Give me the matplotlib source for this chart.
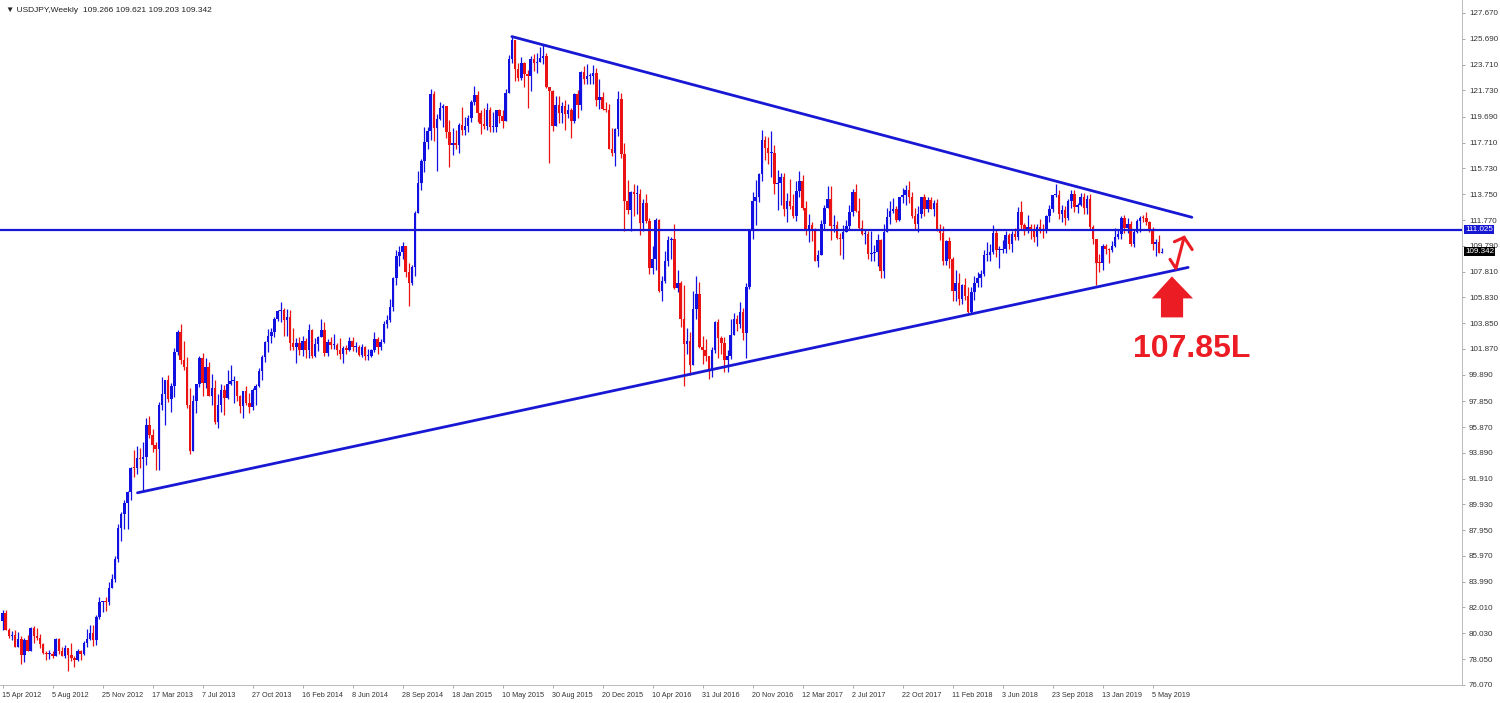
import matplotlib
matplotlib.use('Agg')
import matplotlib.pyplot as plt
from matplotlib.patches import Polygon
import numpy as np

plt.rcParams['font.family'] = ['Liberation Sans', 'DejaVu Sans']

# ── Weekly USDJPY candles (15 Apr 2012 .. 26 May 2019) ─────────────────
first_open = 80.95

close = [
    # 2012
    81.55, 80.30, 79.85, 79.90, 79.00, 79.60, 78.35, 79.55, 78.70, 80.40,
    79.80, 79.65, 79.20, 78.50, 78.40, 78.40, 78.30, 79.60, 78.70, 78.30,
    78.90, 78.35, 78.10, 77.95, 78.70, 78.45, 79.30, 79.60, 80.05, 79.50,
    81.30, 82.40, 82.50, 82.40, 83.50, 84.20, 85.70, 88.15,
    # 2013
    89.20, 90.05, 90.85, 92.75, 92.70, 93.50, 93.40, 93.55, 96.00, 95.25,
    94.50, 94.20, 97.60, 98.40, 99.50, 98.00, 99.00, 101.60, 103.20, 101.00,
    100.45, 97.55, 94.05, 97.90, 99.15, 101.20, 99.25, 100.45, 98.25, 98.90,
    96.25, 97.55, 98.70, 98.10, 99.15, 99.40, 99.40, 98.25, 97.45, 98.60,
    97.75, 97.40, 98.70, 99.05, 100.20, 101.25, 102.40, 102.90, 103.20, 104.15,
    104.75, 104.85,
    # 2014
    104.10, 104.30, 102.30, 102.05, 102.30, 101.80, 102.50, 101.80, 103.30, 101.35,
    102.25, 102.80, 103.30, 101.55, 102.40, 102.15, 102.20, 101.80, 101.50, 101.95,
    101.75, 102.45, 102.00, 102.05, 101.40, 102.05, 101.30, 101.35, 101.80, 102.60,
    102.00, 102.40, 103.80, 104.10, 105.10, 107.35, 109.00, 109.30, 109.75, 107.75,
    106.90, 108.15, 112.30, 114.60, 116.30, 117.80, 118.60, 121.45, 118.80, 119.50,
    120.40, 120.50,
    # 2015
    118.55, 117.55, 117.70, 117.50, 119.10, 118.70, 119.00, 119.60, 120.80, 121.40,
    120.00, 119.15, 119.00, 120.20, 118.90, 118.90, 120.20, 119.75, 119.35, 121.55,
    124.10, 125.60, 123.40, 122.70, 123.85, 122.95, 122.80, 124.10, 123.80, 123.90,
    124.20, 124.35, 122.00, 121.70, 119.00, 120.60, 120.00, 120.55, 119.90, 120.20,
    119.40, 121.45, 120.60, 123.15, 122.60, 122.80, 122.80, 123.10, 120.95, 121.20,
    120.30, 120.20,
    # 2016
    117.25, 116.95, 118.75, 121.10, 116.85, 113.20, 112.55, 113.95, 113.75, 113.80,
    111.55, 113.05, 111.70, 108.05, 108.75, 111.80, 106.35, 107.10, 108.60, 110.20,
    110.35, 106.55, 106.95, 104.20, 102.25, 102.50, 100.60, 104.90, 106.10, 102.05,
    101.80, 101.30, 100.20, 101.80, 103.95, 102.70, 102.30, 101.00, 101.35, 102.95,
    104.20, 103.80, 104.70, 103.10, 106.65, 110.90, 113.20, 113.50, 115.30, 117.95,
    117.30, 116.95,
    # 2017
    116.95, 114.50, 114.60, 115.10, 112.60, 113.20, 112.85, 112.10, 114.00, 114.80,
    112.70, 110.90, 111.40, 111.05, 108.65, 109.05, 111.50, 112.70, 113.35, 111.30,
    111.35, 110.40, 110.30, 110.85, 111.30, 112.40, 113.90, 112.50, 111.15, 110.70,
    110.70, 109.15, 109.20, 109.35, 110.25, 107.85, 110.85, 112.00, 112.50, 112.60,
    111.80, 113.50, 113.70, 114.05, 113.50, 112.10, 111.50, 112.20, 113.50, 112.60,
    113.30, 112.65, 113.05,
    # 2018
    111.05, 110.80, 108.60, 110.15, 108.80, 106.30, 106.90, 105.70, 106.80, 105.95,
    104.70, 106.25, 106.95, 107.35, 107.65, 109.05, 109.10, 109.35, 110.75, 109.45,
    109.50, 109.55, 110.65, 109.95, 110.70, 110.45, 112.35, 111.40, 111.05, 111.25,
    110.90, 110.50, 111.20, 111.05, 111.00, 112.05, 112.60, 113.70, 113.70, 112.20,
    112.55, 111.90, 113.20, 113.80, 112.80, 112.90, 113.55, 112.70, 113.40, 111.25,
    110.30, 108.50,
    # 2019
    108.45, 109.75, 109.55, 109.50, 109.75, 110.45, 110.70, 111.90, 111.15, 111.45,
    109.90, 110.85, 111.70, 111.95, 111.90, 111.60, 111.10, 109.95, 110.05, 109.27,
    109.342,
]

high = [
    # 2012
    81.80, 81.80, 80.45, 80.20, 80.30, 80.10, 79.80, 79.70, 79.90, 80.50,
    80.60, 80.40, 79.95, 79.30, 78.70, 78.75, 78.70, 79.65, 79.65, 78.95,
    79.10, 78.90, 79.25, 78.25, 78.80, 78.75, 79.45, 80.35, 80.70, 80.65,
    81.40, 82.85, 82.50, 82.85, 84.00, 84.60, 86.00, 88.40,
    # 2013
    89.35, 90.25, 90.95, 92.80, 94.10, 94.45, 94.25, 94.75, 96.60, 96.70,
    95.70, 94.75, 97.80, 99.70, 99.20, 99.90, 99.25, 101.95, 103.30, 103.75,
    102.50, 101.25, 98.85, 98.30, 99.20, 101.30, 101.55, 101.20, 100.85, 99.95,
    99.45, 98.40, 99.15, 99.10, 100.25, 100.60, 99.80, 99.40, 98.30, 98.65,
    99.00, 98.50, 98.90, 99.15, 100.40, 101.40, 102.45, 103.40, 103.45, 104.35,
    104.85, 105.45,
    # 2014
    105.05, 104.95, 104.85, 103.45, 102.70, 102.80, 102.85, 102.70, 103.75, 103.40,
    102.70, 102.90, 104.15, 103.90, 102.65, 102.75, 103.05, 102.30, 102.70, 102.10,
    102.20, 102.80, 102.80, 102.40, 102.20, 102.25, 102.10, 101.85, 101.90, 103.15,
    102.80, 102.65, 104.05, 104.50, 105.70, 107.40, 109.45, 109.75, 110.10, 109.05,
    108.45, 108.35, 112.50, 115.55, 116.45, 118.95, 118.95, 121.85, 121.70, 119.95,
    120.80, 120.70,
    # 2015
    120.55, 119.45, 118.85, 118.65, 119.25, 120.45, 119.65, 119.85, 120.95, 122.05,
    121.65, 120.25, 120.35, 120.75, 120.45, 120.10, 120.25, 120.30, 120.25, 121.80,
    124.45, 125.85, 125.10, 123.85, 124.30, 123.90, 123.30, 124.35, 124.55, 124.60,
    125.05, 125.30, 124.60, 122.00, 121.75, 121.30, 121.30, 120.80, 121.00, 120.70,
    120.35, 121.50, 121.75, 123.25, 123.60, 123.75, 123.10, 123.70, 123.45, 122.60,
    121.60, 120.80,
    # 2016
    120.70, 118.80, 118.85, 121.70, 121.50, 117.70, 114.85, 114.00, 114.55, 114.45,
    114.15, 113.35, 113.80, 111.90, 109.75, 111.90, 111.85, 107.50, 109.40, 110.55,
    110.45, 111.45, 107.90, 107.10, 106.80, 103.45, 103.20, 106.30, 107.50, 107.00,
    102.90, 102.65, 101.35, 102.05, 104.00, 104.20, 102.85, 102.80, 101.75, 104.15,
    104.65, 104.45, 105.50, 105.05, 106.95, 111.00, 113.90, 114.85, 115.40, 118.65,
    118.25, 118.15,
    # 2017
    118.60, 117.50, 115.60, 115.40, 115.35, 113.85, 114.95, 113.75, 114.75, 115.50,
    115.20, 113.20, 112.20, 111.60, 111.15, 109.45, 111.80, 112.95, 114.40, 114.35,
    112.15, 111.70, 110.80, 111.40, 111.80, 112.90, 114.15, 114.50, 113.45, 111.75,
    111.05, 110.95, 110.95, 109.85, 110.70, 110.35, 111.50, 112.70, 113.25, 113.45,
    112.85, 113.55, 114.25, 114.45, 114.75, 113.90, 112.70, 112.85, 113.55, 113.75,
    113.50, 113.55, 113.30,
    # 2018
    113.40, 111.50, 111.30, 110.20, 110.50, 108.90, 107.90, 107.70, 106.85, 107.30,
    106.60, 106.65, 107.50, 107.80, 107.90, 109.50, 110.05, 109.95, 111.40, 111.10,
    109.75, 110.25, 110.90, 110.75, 110.95, 111.15, 112.80, 113.20, 111.55, 112.15,
    111.50, 111.45, 111.50, 111.85, 111.50, 112.15, 112.90, 113.70, 114.55, 114.05,
    112.90, 112.85, 113.40, 114.10, 114.05, 113.10, 113.85, 113.85, 113.70, 113.75,
    111.40, 110.00,
    # 2019
    109.15, 109.90, 109.90, 109.60, 110.15, 111.15, 111.05, 112.05, 112.15, 111.90,
    111.70, 111.05, 111.85, 112.05, 112.15, 112.40, 111.70, 111.20, 110.30, 110.65,
    109.621,
]

low = [
    # 2012
    80.30, 80.25, 79.70, 79.50, 79.00, 78.95, 77.65, 77.80, 78.70, 78.75,
    79.30, 79.50, 78.90, 78.40, 77.95, 78.05, 78.10, 78.30, 78.40, 78.25,
    78.10, 77.15, 77.90, 77.45, 77.90, 78.00, 78.35, 79.00, 79.50, 79.05,
    79.10, 81.10, 81.70, 81.75, 82.20, 83.60, 84.00, 85.50,
    # 2013
    87.10, 88.05, 88.05, 90.25, 92.00, 92.25, 92.70, 90.85, 92.95, 95.05,
    93.95, 92.55, 92.55, 97.20, 96.00, 97.80, 97.05, 98.20, 101.40, 100.70,
    100.25, 97.30, 93.80, 94.05, 96.95, 98.95, 98.25, 98.90, 98.25, 97.60,
    96.10, 95.80, 97.00, 96.80, 98.05, 99.10, 97.75, 97.90, 96.95, 96.55,
    97.55, 96.95, 97.15, 97.60, 98.95, 99.45, 100.90, 101.60, 102.30, 102.75,
    104.05, 103.95,
    # 2014
    102.85, 102.85, 101.75, 101.75, 100.75, 101.40, 101.35, 101.20, 101.20, 101.20,
    101.25, 101.70, 102.75, 101.30, 101.35, 101.85, 101.90, 101.40, 101.10, 100.80,
    101.45, 101.70, 101.70, 101.60, 101.30, 101.25, 101.05, 101.05, 101.25, 101.65,
    101.50, 101.80, 102.30, 103.50, 103.95, 104.75, 106.80, 108.25, 108.75, 107.40,
    105.20, 106.80, 107.45, 112.45, 114.05, 115.45, 117.25, 117.95, 117.85, 115.55,
    119.45, 118.90,
    # 2015
    118.05, 115.85, 116.75, 117.25, 116.90, 118.30, 118.30, 118.50, 119.30, 120.60,
    119.30, 118.35, 118.75, 118.70, 118.55, 118.55, 118.50, 119.20, 118.85, 119.35,
    121.50, 123.80, 122.45, 122.45, 122.55, 121.95, 120.40, 121.70, 123.25, 123.10,
    123.90, 123.75, 121.90, 116.15, 118.60, 119.05, 119.25, 119.20, 118.70, 119.60,
    118.05, 119.20, 119.60, 120.25, 122.25, 122.25, 122.25, 122.25, 120.55, 120.30,
    120.25, 120.05,
    # 2016
    117.20, 116.70, 115.95, 118.25, 116.50, 110.95, 112.20, 110.95, 112.10, 112.20,
    110.65, 110.95, 111.55, 107.65, 107.60, 107.90, 106.25, 105.55, 106.95, 108.25,
    108.75, 106.50, 106.25, 103.55, 99.00, 101.45, 99.90, 100.65, 104.20, 101.95,
    100.70, 100.95, 99.55, 99.75, 101.55, 101.20, 101.45, 100.10, 100.10, 101.10,
    103.05, 103.25, 103.50, 102.55, 101.20, 106.45, 110.30, 111.35, 113.15, 114.75,
    116.35, 116.05,
    # 2017
    115.05, 113.75, 112.55, 112.90, 112.10, 111.60, 112.60, 111.95, 111.70, 113.55,
    112.55, 110.60, 110.10, 110.15, 108.60, 108.15, 109.10, 111.05, 112.75, 110.25,
    110.85, 110.30, 109.10, 108.80, 110.95, 111.05, 112.05, 112.40, 111.05, 110.60,
    109.90, 108.75, 108.60, 108.60, 108.25, 107.30, 107.35, 110.90, 111.50, 112.30,
    111.65, 111.70, 113.10, 112.95, 113.10, 111.95, 111.05, 110.85, 111.95, 112.05,
    112.40, 112.60, 112.05,
    # 2018
    110.90, 110.20, 108.30, 108.30, 108.05, 105.55, 105.55, 105.25, 105.35, 105.60,
    104.65, 104.55, 105.65, 106.60, 106.60, 107.50, 108.65, 108.65, 109.15, 108.95,
    108.10, 109.20, 109.25, 109.55, 109.35, 110.25, 110.25, 111.05, 110.60, 110.75,
    110.35, 110.10, 109.80, 110.75, 110.40, 110.80, 111.65, 112.35, 113.55, 111.85,
    111.65, 111.35, 111.80, 112.70, 112.35, 112.30, 112.85, 112.25, 112.25, 111.00,
    109.95, 106.75,
    # 2019
    107.75, 107.90, 109.15, 108.50, 109.35, 109.70, 110.35, 110.35, 110.80, 110.80,
    109.75, 109.70, 110.75, 110.85, 111.60, 111.40, 110.85, 109.45, 109.00, 109.25,
    109.203,
]

date_labels = ['15 Apr 2012', '5 Aug 2012', '25 Nov 2012', '17 Mar 2013', '7 Jul 2013',
               '27 Oct 2013', '16 Feb 2014', '8 Jun 2014', '28 Sep 2014', '18 Jan 2015',
               '10 May 2015', '30 Aug 2015', '20 Dec 2015', '10 Apr 2016', '31 Jul 2016',
               '20 Nov 2016', '12 Mar 2017', '2 Jul 2017', '22 Oct 2017', '11 Feb 2018',
               '3 Jun 2018', '23 Sep 2018', '13 Jan 2019', '5 May 2019']
price_ticks = [127.670, 125.690, 123.710, 121.730, 119.690, 117.710, 115.730, 113.750,
               111.770, 109.790, 107.810, 105.830, 103.850, 101.870, 99.890, 97.850,
               95.870, 93.890, 91.910, 89.930, 87.950, 85.970, 83.990, 82.010,
               80.030, 78.050, 76.070]

level = 111.025
last_price = 109.342
header = '\u25BC USDJPY,Weekly  109.266 109.621 109.203 109.342'

# trendlines  (week index, price)
upper_x, upper_y = [163, 380.6], [125.86, 111.98]
lower_x, lower_y = [43.2, 379.4], [90.82, 108.13]

# hand-drawn red markers
zig_x, zig_y = [373.6, 375.5, 378.1], [108.75, 108.05, 110.44]
head_x, head_y = [375.0, 378.1, 380.7], [110.10, 110.44, 109.50]
block_arrow = [(367.8, 105.75), (374.2, 107.44), (380.96, 105.75), (377.8, 105.75),
               (377.8, 104.29), (370.7, 104.29), (370.7, 105.75)]
target_label = '107.85L'
target_pos = (380.6, 101.9)

# ── Derived candle parts ─────────────────────────────────────────────────
c = np.array(close)
o = np.concatenate([[first_open], c[:-1]])
h = np.maximum(np.array(high), np.maximum(o, c))
l = np.minimum(np.array(low), np.minimum(o, c))
idx = np.arange(len(c))
up = c >= o

BULL = '#1010e0'
BEAR = '#ea1212'
LINE = '#1818d4'
RED = '#ec1c24'

# ── Figure ───────────────────────────────────────────────────────────────
W, H = 1500, 703
fig = plt.figure(figsize=(W / 100, H / 100), dpi=100, facecolor='white')
ax = fig.add_axes([0, 18 / H, 1462 / W, 685 / H])
ax.set_facecolor('white')

PXW = 3.125          # pixels per week
PXP = 13.02          # pixels per yen
ax.set_xlim(-2.5 / PXW, -2.5 / PXW + 1462 / PXW)
ax.set_ylim(127.67 - (685 - 13) / PXP, 127.67 + 13 / PXP)

# candles
cols = np.where(up, BULL, BEAR)
ax.vlines(idx, l, h, colors=cols, lw=0.9, zorder=2)
body_lo = np.minimum(o, c)
body_h = np.maximum(np.abs(c - o), 0.08)
ax.bar(idx, body_h, bottom=body_lo, width=0.8, color=cols, linewidth=0, zorder=3)

# lines
ax.axhline(level, color=LINE, lw=1.6, zorder=4)
ax.plot(upper_x, upper_y, color=LINE, lw=2.0, solid_capstyle='round', zorder=4)
ax.plot(lower_x, lower_y, color=LINE, lw=2.0, solid_capstyle='round', zorder=4)

# red markers
ax.plot(zig_x, zig_y, color=RED, lw=2.2, solid_capstyle='round', zorder=5)
ax.plot(head_x, head_y, color=RED, lw=2.2, solid_capstyle='round',
        solid_joinstyle='miter', zorder=5)
ax.add_patch(Polygon(block_arrow, closed=True, facecolor=RED, edgecolor='none', zorder=5))
ax.text(target_pos[0], target_pos[1], target_label, color=RED, fontsize=23,
        fontweight='bold', ha='center', va='center', zorder=5)

# axes styling
for s in ['top', 'left']:
    ax.spines[s].set_visible(False)
for s in ['right', 'bottom']:
    ax.spines[s].set_color('#b0b0b0')
    ax.spines[s].set_linewidth(0.6)

ax.yaxis.tick_right()
ax.set_yticks(price_ticks)
ax.set_yticklabels([f'{v:.3f}' for v in price_ticks], fontsize=5.8, color='#333333')
ax.tick_params(axis='y', length=2, width=0.5, color='#888888', pad=3)

ax.set_xticks(idx[::16][:len(date_labels)])
ax.set_xticklabels(date_labels, fontsize=5.2, color='#333333', ha='left')
ax.tick_params(axis='x', length=2, width=0.5, color='#888888', pad=3)

# price boxes on the axis
box_x = 1.0 + 3 / 1462
ax.text(box_x, level, f'{level:.3f}', transform=ax.get_yaxis_transform(),
        fontsize=5.8, color='white', va='center', ha='left', clip_on=False, zorder=10,
        bbox=dict(boxstyle='square,pad=0.15', facecolor=LINE, edgecolor='none'))
ax.text(box_x, last_price, f'{last_price:.3f}', transform=ax.get_yaxis_transform(),
        fontsize=5.8, color='white', va='center', ha='left', clip_on=False, zorder=10,
        bbox=dict(boxstyle='square,pad=0.15', facecolor='black', edgecolor='none'))

fig.text(6 / W, 1 - 10 / H, header, fontsize=6, color='#222222', va='center', ha='left')

fig.savefig('out.png', dpi=100, facecolor='white')
